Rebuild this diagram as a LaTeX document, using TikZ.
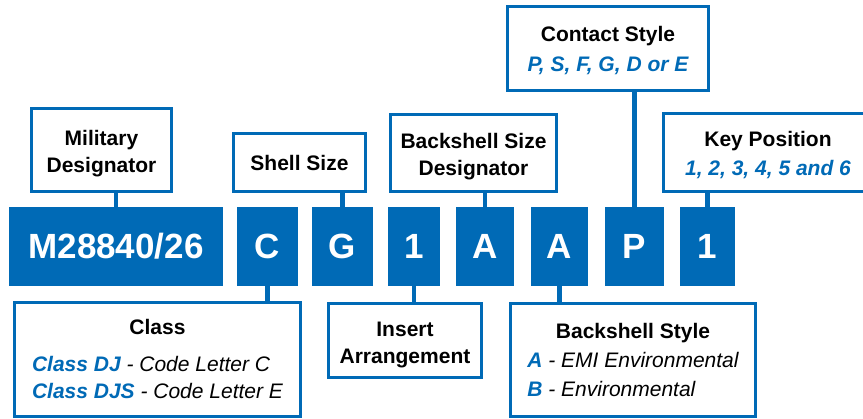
\documentclass[tikz,border=0pt]{standalone}
\usepackage{fontspec}
\setmainfont{Liberation Sans}
\usepackage{tikz}
\definecolor{partblue}{RGB}{0,106,182}
\newcommand\blueit[1]{{\color{partblue}\bfseries\itshape #1}}
\newcommand\tstrut[1]{\rule{0pt}{#1}}

\begin{document}
\begin{tikzpicture}[x=1pt,y=-1pt,
		codebox/.style={fill=partblue,text=white,inner sep=0pt,minimum height=79,font=\fontsize{35}{35}\selectfont\bfseries},
		infobox/.style={draw=partblue,line width=3pt,fill=white,align=center,inner sep=0pt,font=\fontsize{21}{27}\selectfont\bfseries},
		lead/.style={draw=partblue,line width=4.5pt}]
		  \clip (0,0) rectangle (863,419);
		  % the part number
		  \node[codebox,minimum width=214] (m) at (116,246.5) {M28840/26};
		  \node[codebox,minimum width=61] (c) at (267.5,246.5) {C};
		  \node[codebox,minimum width=61] (g) at (342.5,246.5) {G};
		  \node[codebox,minimum width=52] (ins) at (414,246.5) {1};
		  \node[codebox,minimum width=58] (bsz) at (485,246.5) {A};
		  \node[codebox,minimum width=57] (bst) at (559.5,246.5) {A};
		  \node[codebox,minimum width=59] (p) at (634.5,246.5) {P};
		  \node[codebox,minimum width=55] (k) at (707.5,246.5) {1};
		  % above
		  \node[infobox,minimum width=140,minimum height=83] (mil) at (101.5,150) {\tstrut{23pt}Military\\Designator};
		  \node[infobox,minimum width=132,minimum height=58] (shell) at (299.5,162.5) {Shell Size};
		  \node[infobox,minimum width=166,minimum height=77] (bsd) at (473.5,153) {\tstrut{23pt}Backshell Size\\Designator};
		  \node[infobox,minimum width=201,minimum height=84] (contact) at (608,48.5) {\tstrut{19.5pt}Contact Style\\[3pt]\blueit{P, S, F, G, D or E}};
		  \node[infobox,minimum width=209,minimum height=78] (key) at (768,152.5) {\tstrut{19.5pt}Key Position\\[2pt]\blueit{1, 2, 3, 4, 5 and 6}};
		  % below
		  \node[infobox,minimum width=286,minimum height=114] (class) at (157.5,359.5) {\tstrut{23pt}Class\\[10pt]\begin{tabular}[t]{@{}l@{}}\blueit{Class DJ} {\mdseries\itshape - Code Letter C}\\ \blueit{Class DJS} {\mdseries\itshape - Code Letter E}\end{tabular}};
		  \node[infobox,minimum width=153,minimum height=74] (insbox) at (405,340.5) {\tstrut{23pt}Insert\\Arrangement};
		  \node[infobox,minimum width=245,minimum height=113] (style) at (633,360) {\tstrut{23pt}Backshell Style\\[2pt]\begin{tabular}[t]{@{}l@{}}\blueit{A} {\mdseries\itshape - EMI Environmental}\\[2pt] \blueit{B} {\mdseries\itshape - Environmental}\end{tabular}};
		  % leads
		  \draw[lead] (m.north) -- (m.north |- mil.south);
		  \draw[lead] (g.north) -- (g.north |- shell.south);
		  \draw[lead] (bsz.north) -- (bsz.north |- bsd.south);
		  \draw[lead] (p.north) -- (p.north |- contact.south);
		  \draw[lead] (k.north) -- (k.north |- key.south);
		  \draw[lead] (c.south) -- (c.south |- class.north);
		  \draw[lead] (ins.south) -- (ins.south |- insbox.north);
		  \draw[lead] (bst.south) -- (bst.south |- style.north);
		\end{tikzpicture}
\end{document}
